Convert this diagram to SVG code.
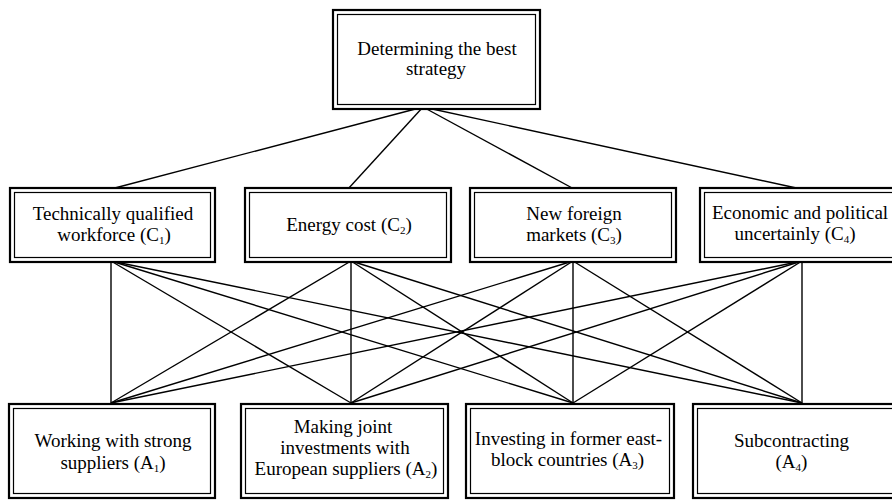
<svg xmlns="http://www.w3.org/2000/svg" width="892" height="500" viewBox="0 0 892 500">
<style>
.o{fill:#fff;stroke:#000;stroke-width:2.2}
.i{fill:none;stroke:#000;stroke-width:1.2}
text{font-family:"Liberation Serif","Times New Roman",serif;font-size:19px;fill:#000;text-anchor:middle}
.s{font-size:11px}
#connectors line{stroke:#000;stroke-width:1.4}
</style>
<rect width="892" height="500" fill="#fff"/>
<g id="connectors">
<line x1="423" y1="107" x2="111" y2="189"/>
<line x1="423" y1="107" x2="348" y2="189"/>
<line x1="423" y1="107" x2="574" y2="189"/>
<line x1="423" y1="107" x2="801" y2="189"/>
<line x1="111" y1="261" x2="111" y2="403"/>
<line x1="111" y1="261" x2="351" y2="403"/>
<line x1="111" y1="261" x2="573" y2="403"/>
<line x1="111" y1="261" x2="802" y2="403"/>
<line x1="351" y1="261" x2="111" y2="403"/>
<line x1="351" y1="261" x2="351" y2="403"/>
<line x1="351" y1="261" x2="573" y2="403"/>
<line x1="351" y1="261" x2="802" y2="403"/>
<line x1="573" y1="261" x2="111" y2="403"/>
<line x1="573" y1="261" x2="351" y2="403"/>
<line x1="573" y1="261" x2="573" y2="403"/>
<line x1="573" y1="261" x2="802" y2="403"/>
<line x1="802" y1="261" x2="111" y2="403"/>
<line x1="802" y1="261" x2="351" y2="403"/>
<line x1="802" y1="261" x2="573" y2="403"/>
<line x1="802" y1="261" x2="802" y2="403"/>
</g>
<g id="goal">
<rect class="o" x="333" y="10" width="207" height="99"/>
<rect class="i" x="337.5" y="14.5" width="198" height="90"/>
<text x="437" y="55">Determining the best</text>
<text x="436" y="75">strategy</text>
</g>
<g id="C1">
<rect class="o" x="10" y="188" width="205" height="74"/>
<rect class="i" x="14.5" y="192.5" width="196" height="65"/>
<text x="113" y="220">Technically qualified</text>
<text x="114" y="240.5">workforce (C<tspan class="s" dy="3">1</tspan><tspan dy="-3">)</tspan></text>
</g>
<g id="C2">
<rect class="o" x="245" y="188" width="206" height="74"/>
<rect class="i" x="249.5" y="192.5" width="197" height="65"/>
<text x="349" y="231">Energy cost (C<tspan class="s" dy="3">2</tspan><tspan dy="-3">)</tspan></text>
</g>
<g id="C3">
<rect class="o" x="470" y="188" width="206" height="74"/>
<rect class="i" x="474.5" y="192.5" width="197" height="65"/>
<text x="574" y="220">New foreign</text>
<text x="574" y="240.5">markets (C<tspan class="s" dy="3">3</tspan><tspan dy="-3">)</tspan></text>
</g>
<g id="C4">
<rect class="o" x="700" y="188" width="206" height="74"/>
<rect class="i" x="704.5" y="192.5" width="197" height="65"/>
<text x="800" y="219">Economic and political</text>
<text x="795" y="239.5">uncertainly (C<tspan class="s" dy="3">4</tspan><tspan dy="-3">)</tspan></text>
</g>
<g id="A1">
<rect class="o" x="9" y="404" width="206" height="94"/>
<rect class="i" x="13.5" y="408.5" width="197" height="85"/>
<text x="113" y="447">Working with strong</text>
<text x="113" y="469">suppliers (A<tspan class="s" dy="3">1</tspan><tspan dy="-3">)</tspan></text>
</g>
<g id="A2">
<rect class="o" x="241" y="404" width="207" height="94"/>
<rect class="i" x="245.5" y="408.5" width="198" height="85"/>
<text x="343" y="433">Making joint</text>
<text x="345" y="454">investments with</text>
<text x="346" y="475">European suppliers (A<tspan class="s" dy="3">2</tspan><tspan dy="-3">)</tspan></text>
</g>
<g id="A3">
<rect class="o" x="466" y="404" width="208" height="94"/>
<rect class="i" x="470.5" y="408.5" width="199" height="85"/>
<text x="568.5" y="445">Investing in former east-</text>
<text x="567.5" y="466">block countries (A<tspan class="s" dy="3">3</tspan><tspan dy="-3">)</tspan></text>
</g>
<g id="A4">
<rect class="o" x="693" y="404" width="206" height="94"/>
<rect class="i" x="697.5" y="408.5" width="197" height="85"/>
<text x="791.5" y="447">Subcontracting</text>
<text x="791.5" y="468">(A<tspan class="s" dy="3">4</tspan><tspan dy="-3">)</tspan></text>
</g>
</svg>
